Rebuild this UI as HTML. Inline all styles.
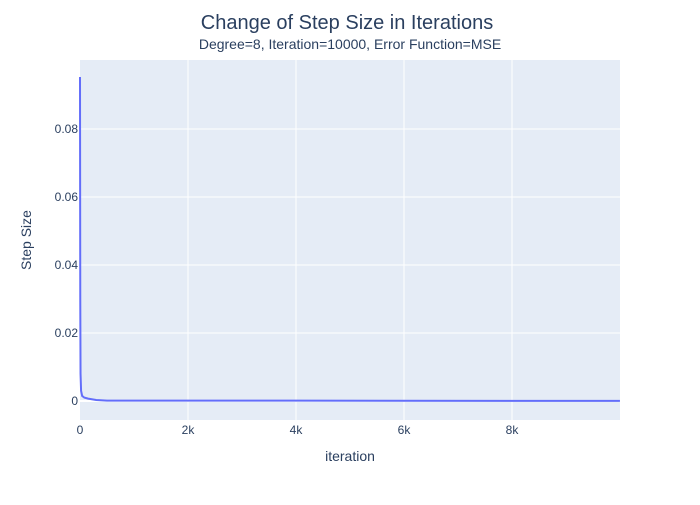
<!DOCTYPE html>
<html><head><meta charset="utf-8"><style>
body{margin:0;background:#fff;font-family:"Liberation Sans",Arial,sans-serif}
svg text{font-family:"Liberation Sans",Arial,sans-serif}
</style></head><body>
<svg width="700" height="500">
<rect x="0" y="0" width="700" height="500" fill="#fff"/>
<rect x="80" y="60" width="540" height="360" fill="#e5ecf6"/>
<g id="grid"></g>
<g id="ticks"></g>
<path id="line" fill="none" stroke="#636efa" stroke-width="2"/>
<text x="347" y="29" text-anchor="middle" font-size="20" fill="#2a3f5f">Change of Step Size in Iterations</text>
<text x="350" y="49" text-anchor="middle" font-size="14" fill="#2a3f5f">Degree=8, Iteration=10000, Error Function=MSE</text>
<text x="350" y="461" text-anchor="middle" font-size="14" fill="#2a3f5f">iteration</text>
<text transform="translate(31,240) rotate(-90)" text-anchor="middle" font-size="14" fill="#2a3f5f">Step Size</text>
</svg>
<script>
const iterations=[0,5,10,20,40,80,150,300,500,1000,4000,9999];
const stepSizes=[0.0953,0.03,0.008,0.003,0.0015,0.001,0.0007,0.0003,0.0001,0.0001,0.0001,0.00002];
const xTicks=[0,2000,4000,6000,8000];
const xTickLabels=["0","2k","4k","6k","8k"];
const yTicks=[0,0.02,0.04,0.06,0.08];
const yTickLabels=["0","0.02","0.04","0.06","0.08"];
const NS="http://www.w3.org/2000/svg";
const xs=v=>80+v*540/10000;
const ys=v=>401-v*3400;
const grid=document.getElementById('grid'),ticks=document.getElementById('ticks');
xTicks.forEach((t,i)=>{
 if(t>0){const l=document.createElementNS(NS,'line');
 l.setAttribute('x1',xs(t));l.setAttribute('x2',xs(t));l.setAttribute('y1',60);l.setAttribute('y2',420);
 l.setAttribute('stroke','#fff');l.setAttribute('stroke-width','1');
 
 
 grid.appendChild(l);}
 const tx=document.createElementNS(NS,'text');
 tx.setAttribute('x',xs(t));tx.setAttribute('y',434);tx.setAttribute('text-anchor','middle');
 tx.setAttribute('font-size','12');tx.setAttribute('fill','#2a3f5f');tx.textContent=xTickLabels[i];
 
 
 ticks.appendChild(tx);
});
yTicks.forEach((t,i)=>{
 const l=document.createElementNS(NS,'line');
 l.setAttribute('x1',80);l.setAttribute('x2',620);l.setAttribute('y1',ys(t));l.setAttribute('y2',ys(t));
 l.setAttribute('stroke','#fff');l.setAttribute('stroke-width',t===0?'2':'1');
 
 
 grid.appendChild(l);
 const tx=document.createElementNS(NS,'text');
 tx.setAttribute('x',79-0+0);tx.setAttribute('x',78);tx.setAttribute('y',ys(t)+4);tx.setAttribute('text-anchor','end');
 tx.setAttribute('font-size','12');tx.setAttribute('fill','#2a3f5f');tx.textContent=yTickLabels[i];
 
 
 ticks.appendChild(tx);
});
document.getElementById('line').setAttribute('d',iterations.map((v,i)=>(i?'L':'M')+xs(v).toFixed(2)+','+ys(stepSizes[i]).toFixed(2)).join(''));
</script>
</body></html>
